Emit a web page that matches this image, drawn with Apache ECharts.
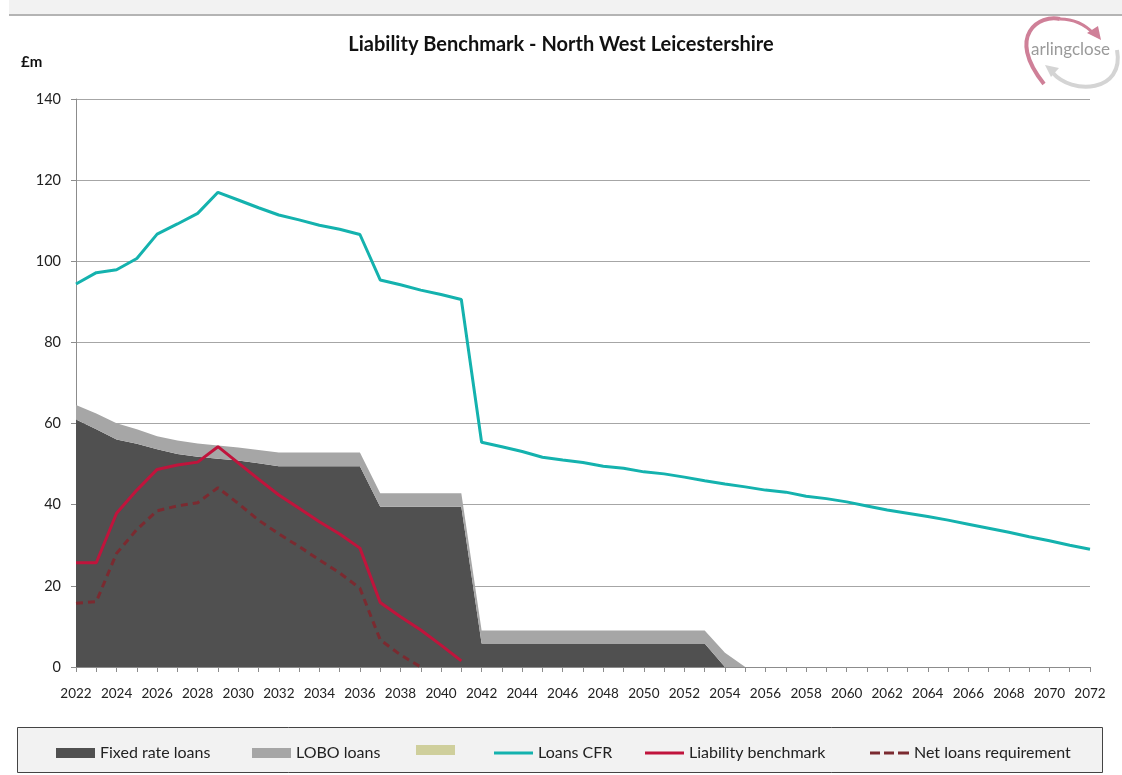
<!DOCTYPE html>
<html><head><meta charset="utf-8">
<script src="https://cdn.jsdelivr.net/npm/echarts@6/dist/echarts.min.js"></script>
<style>html,body{margin:0;padding:0;background:#fff}#c{width:1122px;height:775px}</style>
</head><body><div id="c"></div>
<script>
const years = [];
for (let y = 2022; y <= 2072; y++) years.push(String(y));
const yTicks = [0, 20, 40, 60, 80, 100, 120, 140];

const fixedRate = [61.0,58.6,56.1,55.0,53.7,52.5,51.8,51.3,50.9,50.2,49.5,49.5,49.5,49.5,49.5,39.5,39.5,39.5,39.5,39.5,5.8,5.8,5.8,5.8,5.8,5.8,5.8,5.8,5.8,5.8,5.8,5.8,0,0,0,0,0,0,0,0,0,0,0,0,0,0,0,0,0,0,0];
const lobo = [3.6,3.9,4.0,3.6,3.2,3.3,3.3,3.3,3.2,3.3,3.4,3.4,3.4,3.4,3.4,3.3,3.3,3.3,3.3,3.3,3.2,3.2,3.2,3.2,3.2,3.2,3.2,3.2,3.2,3.2,3.2,3.2,3.5,0,0,0,0,0,0,0,0,0,0,0,0,0,0,0,0,0,0];
const other = [];
const loansCFR = [94.4,97.2,97.9,100.7,106.7,109.2,111.8,117.0,115.1,113.2,111.4,110.2,108.9,107.9,106.6,95.4,94.2,92.9,91.8,90.6,55.4,54.3,53.1,51.7,51.0,50.4,49.5,49.0,48.1,47.6,46.8,45.9,45.1,44.4,43.6,43.1,42.1,41.5,40.7,39.7,38.7,37.9,37.1,36.2,35.2,34.2,33.2,32.1,31.1,30.0,29.0];
const liabilityBenchmark = [25.7,25.7,37.9,43.6,48.7,49.8,50.5,54.3,50.3,46.3,42.4,39.1,35.8,32.8,29.3,15.9,12.4,9.1,5.4,1.5];
const netLoansRequirement = [15.7,16.1,28.0,33.9,38.5,39.7,40.5,44.2,40.3,36.2,32.8,29.7,26.4,23.2,19.4,6.7,3.0,0];

const FONT = 'Lato';
const chart = echarts.init(document.getElementById('c'));
const solidIcon = 'path://M0,0H39V3H0Z';
const dashIcon = 'path://M0,0H10V3H0Z M14,0H24V3H14Z M28,0H39V3H28Z';
const legendBase = {top: 740, itemWidth: 39, itemHeight: 10, icon: 'rect',
  textStyle: {fontFamily: FONT, fontSize: 16, color: '#222'}, itemGap: 0, selectedMode: false};
chart.setOption({
  animation: false,
  backgroundColor: '#fff',
  textStyle: {fontFamily: FONT},
  title: {text: 'Liability Benchmark - North West Leicestershire', left: 'center', top: 30,
    textStyle: {fontFamily: FONT, fontSize: 20, fontWeight: 'bold', color: '#111'}},
  graphic: [
    {type: 'rect', shape: {x: 9, y: 0, width: 1113, height: 14}, style: {fill: '#f2f2f2'}, silent: true},
    {type: 'rect', shape: {x: 9, y: 14, width: 1113, height: 2}, style: {fill: '#b4b4b4'}, silent: true},
    {type: 'rect', shape: {x: 17.5, y: 727.5, width: 1085, height: 45}, style: {fill: '#f2f2f2', stroke: '#444', lineWidth: 1}, silent: true, z: -1},
    {type: 'text', x: 21, y: 55, style: {text: '£m', font: 'bold 15px ' + FONT, fill: '#111'}},
    {type: 'bezierCurve', shape: {x1: 1044, y1: 84, cpx1: 1005, cpy1: 35, cpx2: 1040, cpy2: 14, x2: 1060, y2: 19}, style: {fill: null, stroke: '#cf8098', lineWidth: 4}, silent: true},
    {type: 'bezierCurve', shape: {x1: 1060, y1: 19, cpx1: 1080, cpy1: 19, x2: 1094, y2: 34}, style: {fill: null, stroke: '#cf8098', lineWidth: 3}, silent: true},
    {type: 'polygon', shape: {points: [[1087,33],[1101,40],[1098,26]]}, style: {fill: '#cf8098'}, silent: true},
    {type: 'bezierCurve', shape: {x1: 1052, y1: 72, cpx1: 1072, cpy1: 96, cpx2: 1125, cpy2: 92, x2: 1117, y2: 50}, style: {fill: null, stroke: '#d4d4d4', lineWidth: 4}, silent: true},
    {type: 'polygon', shape: {points: [[1045,65],[1059,68],[1051,77]]}, style: {fill: '#d4d4d4'}, silent: true},
    {type: 'text', x: 1031, y: 41, style: {text: 'arlingclose', font: '17px ' + FONT, fill: '#9a9a9a'}}
  ],
  legend: [
    Object.assign({}, legendBase, {left: 51, data: ['Fixed rate loans']}),
    Object.assign({}, legendBase, {left: 247, data: ['LOBO loans']}),
    Object.assign({}, legendBase, {left: 411, data: ['other'], formatter: () => ''}),
    Object.assign({}, legendBase, {left: 489, itemHeight: 3, data: [{name: 'Loans CFR', icon: solidIcon}]}),
    Object.assign({}, legendBase, {left: 640, itemHeight: 3, data: [{name: 'Liability benchmark', icon: solidIcon}]}),
    Object.assign({}, legendBase, {left: 865, itemHeight: 3, data: [{name: 'Net loans requirement', icon: dashIcon}]})
  ],
  grid: {left: 76, right: 32, top: 99, bottom: 108, containLabel: false},
  xAxis: {
    type: 'category', data: years, boundaryGap: false,
    axisLine: {lineStyle: {color: '#8c8c8c', width: 1}},
    axisTick: {interval: 0, length: 5, lineStyle: {color: '#8c8c8c'}},
    axisLabel: {interval: 1, fontFamily: FONT, fontSize: 13.5, color: '#222', margin: 20},
    splitLine: {show: false}
  },
  yAxis: {
    type: 'value', min: yTicks[0], max: yTicks[yTicks.length-1], interval: 20,
    axisLine: {show: true, lineStyle: {color: '#8c8c8c', width: 1}},
    axisTick: {show: true, length: 5, lineStyle: {color: '#8c8c8c'}},
    axisLabel: {fontFamily: FONT, fontSize: 14.5, color: '#222', margin: 15},
    splitLine: {lineStyle: {color: '#a6a6a6', width: 1}}
  },
  series: [
    {name: 'Fixed rate loans', type: 'line', stack: 'debt', data: fixedRate, symbol: 'none',
      lineStyle: {width: 0}, areaStyle: {color: '#505050', opacity: 1}, itemStyle: {color: '#505050'}, z: 1},
    {name: 'LOBO loans', type: 'line', stack: 'debt', data: lobo, symbol: 'none',
      lineStyle: {width: 0}, areaStyle: {color: '#a6a6a6', opacity: 1}, itemStyle: {color: '#a6a6a6'}, z: 1},
    {name: 'other', type: 'line', data: other, symbol: 'none',
      lineStyle: {width: 0}, areaStyle: {color: '#cfcf9c', opacity: 1}, itemStyle: {color: '#cfcf9c'}, z: 1},
    {name: 'Loans CFR', type: 'line', data: loansCFR, symbol: 'none',
      lineStyle: {color: '#14b2ae', width: 3}, itemStyle: {color: '#14b2ae'}, z: 3},
    {name: 'Liability benchmark', type: 'line', data: liabilityBenchmark, symbol: 'none',
      lineStyle: {color: '#c0143c', width: 3}, itemStyle: {color: '#c0143c'}, z: 3},
    {name: 'Net loans requirement', type: 'line', data: netLoansRequirement, symbol: 'none',
      lineStyle: {color: '#7b2a30', width: 3, type: [7, 5]}, itemStyle: {color: '#7b2a30'}, z: 3}
  ]
});
</script></body></html>
